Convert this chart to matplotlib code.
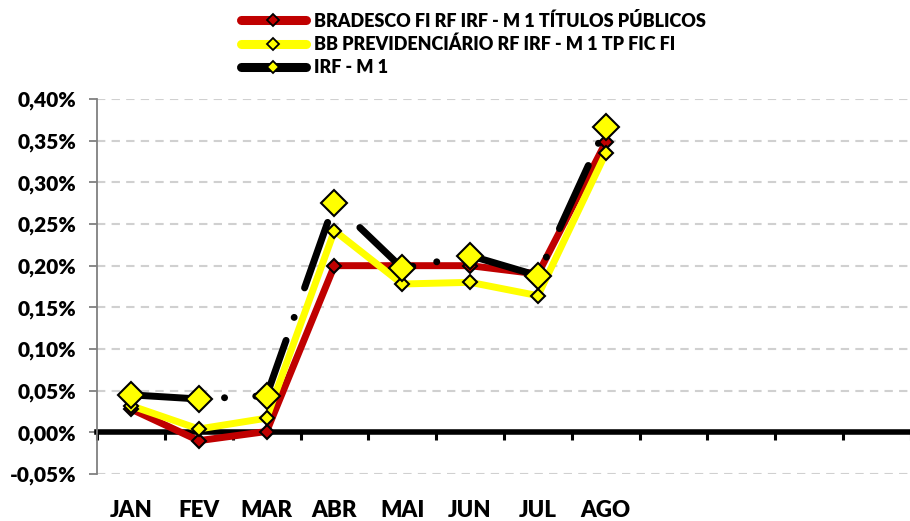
import numpy as np
import matplotlib
matplotlib.use("Agg")
import matplotlib.pyplot as plt
from matplotlib.lines import Line2D
from matplotlib.ticker import FuncFormatter

# categorias (os ultimos quatro meses ficam sem rotulo, como no original)
meses = ['JAN', 'FEV', 'MAR', 'ABR', 'MAI', 'JUN', 'JUL', 'AGO', '', '', '', '']

# rentabilidade mensal em %
bradesco = [0.028, -0.010, 0.001, 0.200, 0.200, 0.200, 0.190, 0.348]
bb_prev = [0.032, 0.004, 0.017, 0.242, 0.178, 0.180, 0.164, 0.335]
irf_m1 = [0.045, 0.040, 0.044, 0.275, 0.197, 0.212, 0.188, 0.366]

nomes = ['BRADESCO FI RF IRF - M 1 TÍTULOS PÚBLICOS',
         'BB PREVIDENCIÁRIO RF IRF - M 1 TP FIC FI',
         'IRF - M 1']

y_ticks = [-0.05, 0.0, 0.05, 0.10, 0.15, 0.20, 0.25, 0.30, 0.35, 0.40]

VERMELHO = '#C00000'
AMARELO = '#FFFF00'

plt.rcParams['font.family'] = ['Lato', 'DejaVu Sans']
plt.rcParams['font.weight'] = 'heavy'

fig = plt.figure(figsize=(9.1, 5.21), dpi=100)
ax = fig.add_axes([97 / 910, 1 - 474 / 521, (911 - 97) / 910, (474 - 99) / 521])

x = np.arange(len(bradesco))

# linhas
ax.plot(x, bradesco, color=VERMELHO, lw=5, solid_joinstyle='round', zorder=3)
ax.plot(x, bb_prev, color=AMARELO, lw=5, solid_joinstyle='round', zorder=4)
ax.plot(x, irf_m1, color='black', lw=5, linestyle=(0, (10, 3.5, 0.01, 4.5)),
        dash_capstyle='round', zorder=5)

# marcadores
ax.plot(x, bradesco, ls='none', marker='D', ms=7.5, mfc=VERMELHO, mec='black', mew=1.5, zorder=6)
ax.plot(x, bb_prev, ls='none', marker='D', ms=7.5, mfc=AMARELO, mec='black', mew=1.5, zorder=7)
ax.plot(x, irf_m1, ls='none', marker='D', ms=13, mfc=AMARELO, mec='black', mew=1.5, zorder=8)

ax.set_xlim(-0.5, len(meses) - 0.5)
ax.set_ylim(-0.05, 0.40)

# eixo y
ax.set_yticks(y_ticks)
ax.yaxis.set_major_formatter(FuncFormatter(lambda v, p: '{:.2f}%'.format(v).replace('.', ',')))
ax.grid(axis='y', color='#D0D0D0', lw=1.5, linestyle=(0, (4, 3)), zorder=0)
ax.tick_params(axis='y', direction='out', length=6, width=1.3, color='#808080',
               pad=9, labelsize=15)
ax.spines['left'].set_color('#808080')
ax.spines['left'].set_linewidth(1.3)
ax.spines['top'].set_visible(False)
ax.spines['right'].set_visible(False)

# eixo x no zero
ax.spines['bottom'].set_position(('data', 0))
ax.spines['bottom'].set_linewidth(4)
ax.spines['bottom'].set_zorder(2)
ax.set_xticks(np.arange(-0.5, len(meses), 1))
ax.tick_params(axis='x', direction='out', length=6, width=2.2, color='black', labelbottom=False)

sec = ax.secondary_xaxis('bottom')
sec.set_xticks(np.arange(len(meses)), meses)
sec.tick_params(length=0, pad=19, labelsize=16)
sec.spines['bottom'].set_visible(False)

# legenda
handles = [
    Line2D([], [], color=VERMELHO, lw=6.5, solid_capstyle='round', marker='D', ms=6,
           mfc=VERMELHO, mec='black', mew=1.3),
    Line2D([], [], color=AMARELO, lw=6.5, solid_capstyle='round', marker='D', ms=6,
           mfc=AMARELO, mec='black', mew=1.3),
    Line2D([], [], color='black', lw=6.5, solid_capstyle='round', marker='D', ms=6,
           mfc=AMARELO, mec='black', mew=1.3),
]
fig.legend(handles, nomes, loc='upper left', bbox_to_anchor=(228 / 910, 1 + 1 / 521),
           frameon=False, fontsize=13, handlelength=3.6, handletextpad=0.45,
           labelspacing=0.33, borderpad=0.2)

fig.savefig('out.png', dpi=100)
